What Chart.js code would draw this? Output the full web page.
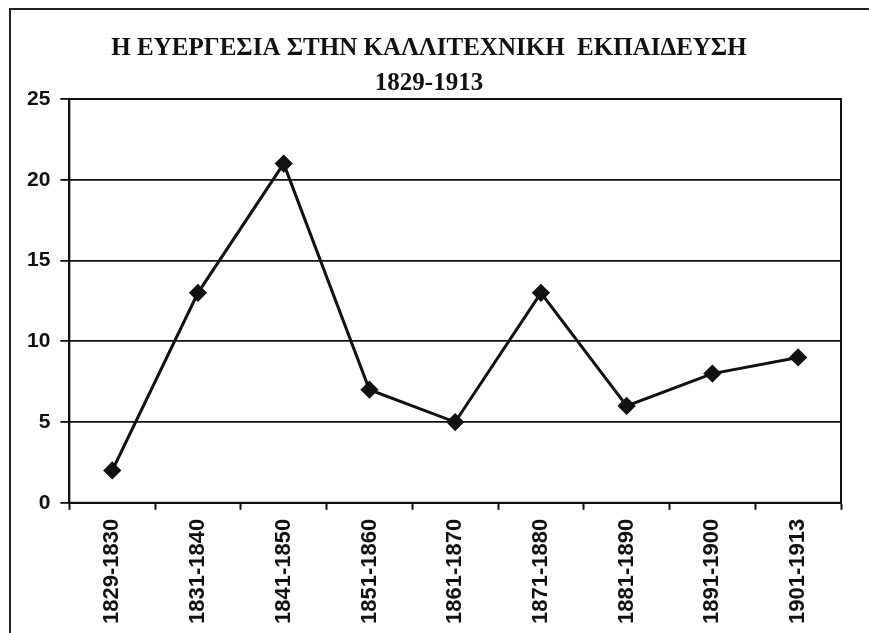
<!DOCTYPE html>
<html>
<head>
<meta charset="utf-8">
<script src="https://cdn.jsdelivr.net/npm/chart.js@4"></script>
<style>
html,body{margin:0;padding:0;background:#fff;}
#wrap{position:relative;width:869px;height:633px;}
</style>
</head>
<body>
<div id="wrap"><canvas id="c" width="869" height="633"></canvas></div>
<script>
const titleText = "Η ΕΥΕΡΓΕΣΙΑ ΣΤΗΝ ΚΑΛΛΙΤΕΧΝΙΚΗ  ΕΚΠΑΙΔΕΥΣΗ";
const subtitleText = "1829-1913";
const categories = ["1829-1830","1831-1840","1841-1850","1851-1860","1861-1870","1871-1880","1881-1890","1891-1900","1901-1913"];
const values = [2, 13, 21, 7, 5, 13, 6, 8, 9];
const yTicks = [0, 5, 10, 15, 20, 25];

const framePlugin = {
  id: 'frame',
  beforeDraw(chart) {
    const ctx = chart.ctx;
    ctx.save();
    ctx.fillStyle = '#fff';
    ctx.fillRect(0, 0, chart.width, chart.height);
    ctx.strokeStyle = '#222';
    ctx.lineWidth = 2;
    ctx.beginPath();
    ctx.moveTo(10, chart.height);
    ctx.lineTo(10, 9);
    ctx.lineTo(chart.width, 9);
    ctx.stroke();
    ctx.restore();
  }
};
const plotBorder = {
  id: 'plotBorder',
  beforeDatasetsDraw(chart) {
    const a = chart.chartArea, ctx = chart.ctx;
    ctx.save();
    ctx.strokeStyle = '#111';
    ctx.lineWidth = 2;
    ctx.strokeRect(a.left, a.top, a.right - a.left, a.bottom - a.top);
    ctx.restore();
  }
};

new Chart(document.getElementById('c'), {
  type: 'line',
  data: {
    labels: categories,
    datasets: [{
      data: values,
      borderColor: '#111',
      backgroundColor: '#111',
      borderWidth: 3,
      pointStyle: 'rectRot',
      pointRadius: 7,
      pointHoverRadius: 7,
      pointBackgroundColor: '#111',
      pointBorderColor: '#111',
      tension: 0
    }]
  },
  options: {
    responsive: false,
    animation: false,
    devicePixelRatio: 1,
    layout: { padding: { top: 34, left: 17, right: 28, bottom: 0 } },
    plugins: {
      legend: { display: false },
      tooltip: { enabled: false },
      title: {
        display: true,
        text: titleText,
        color: '#111',
        font: { family: "'Liberation Serif', 'DejaVu Serif', serif", size: 25, weight: 'bold' },
        padding: { top: 0, bottom: 5 }
      },
      subtitle: {
        display: true,
        text: subtitleText,
        color: '#111',
        font: { family: "'Liberation Serif', 'DejaVu Serif', serif", size: 25, weight: 'bold' },
        padding: { top: 0, bottom: 0 }
      }
    },
    scales: {
      x: {
        type: 'category',
        offset: true,
        grid: {
          offset: true,
          drawOnChartArea: false,
          drawTicks: true,
          tickLength: 7,
          tickColor: '#111',
          tickWidth: 2
        },
        border: { display: true, color: '#111', width: 2 },
        ticks: {
          color: '#111',
          minRotation: 90,
          maxRotation: 90,
          padding: 9,
          autoSkip: false,
          font: { family: "'Liberation Sans', Arial, sans-serif", size: 22, weight: 'bold' }
        }
      },
      y: {
        min: 0,
        max: 25,
        afterBuildTicks(scale) { scale.ticks = yTicks.map(v => ({ value: v })); },
        grid: {
          color: '#111',
          lineWidth: 1.8,
          drawTicks: true,
          tickLength: 9,
          tickColor: '#111'
        },
        border: { display: true, color: '#111', width: 2 },
        ticks: {
          color: '#111',
          padding: 10,
          font: { family: "'Liberation Sans', Arial, sans-serif", size: 21, weight: 'bold' }
        }
      }
    }
  },
  plugins: [framePlugin, plotBorder]
});
</script>
</body>
</html>
